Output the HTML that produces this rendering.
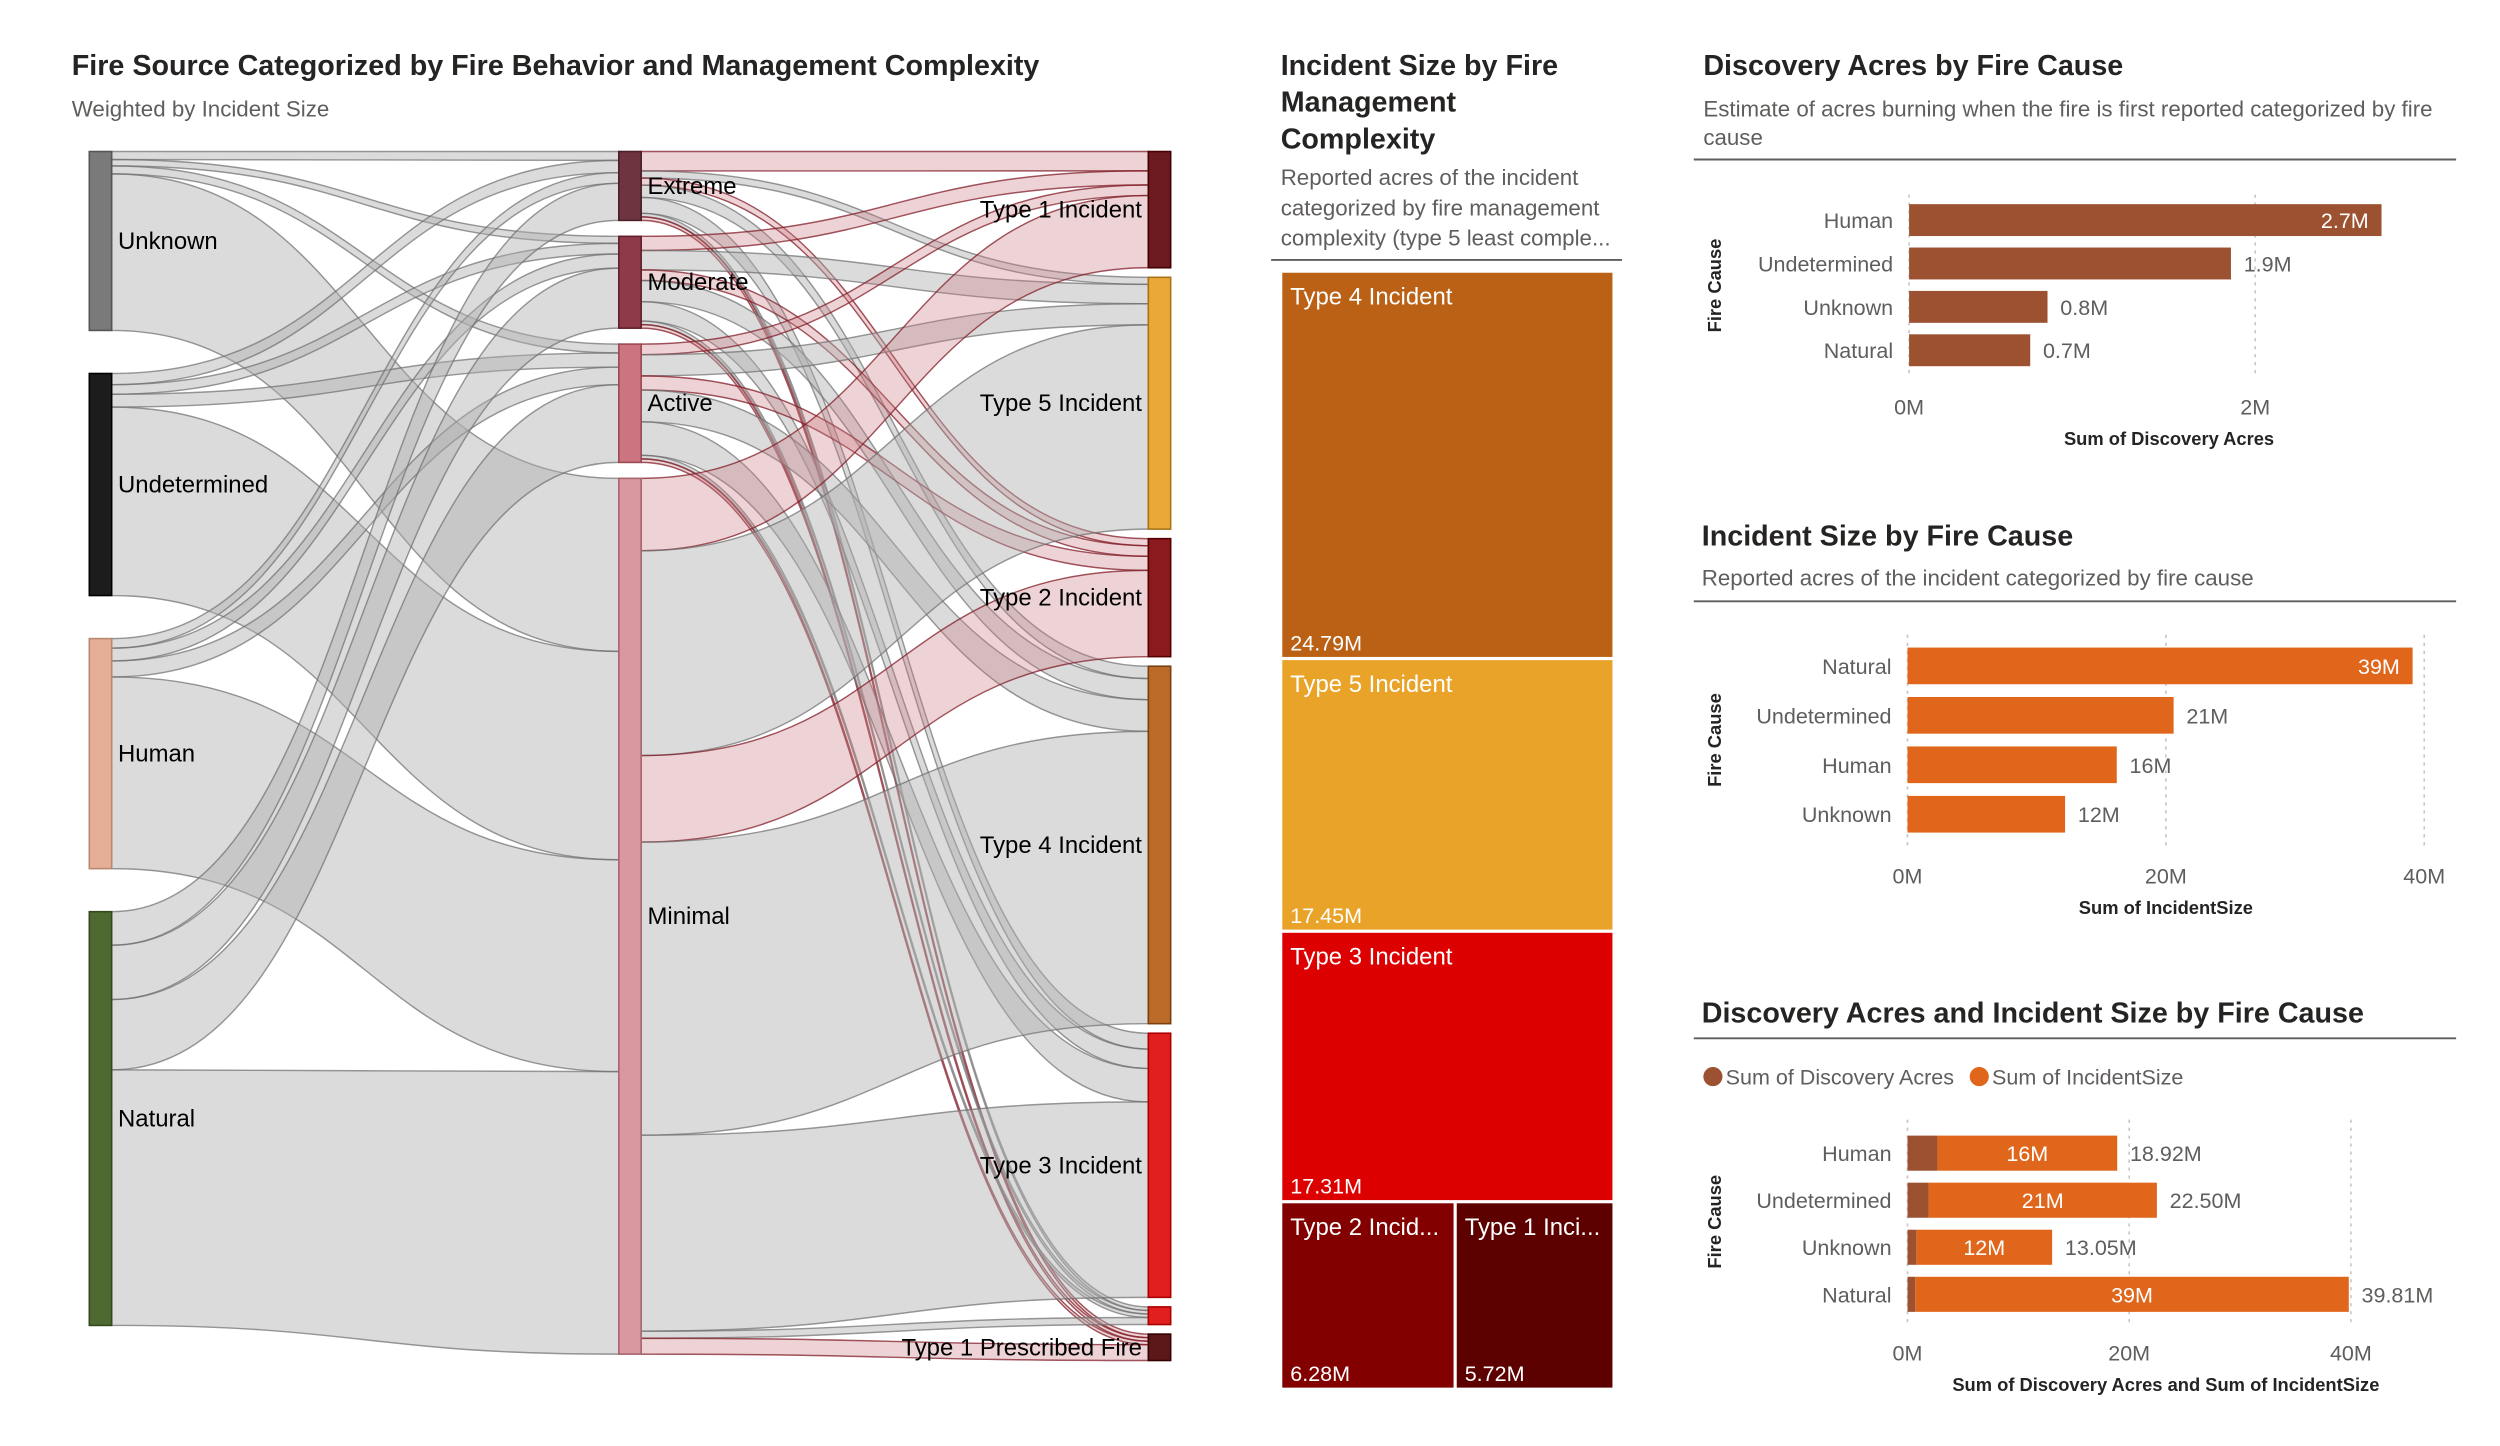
<!DOCTYPE html>
<html><head><meta charset="utf-8"><style>
html,body{margin:0;padding:0;background:#fff;}
svg{display:block;font-family:"Liberation Sans",sans-serif;}
.t{font-size:18px;fill:#252423;font-weight:600;}
.st{font-size:14px;fill:#605e5c;}
.lab{font-size:15px;fill:#000;}
.ax{font-size:13.5px;fill:#605e5c;}
.axt{font-size:11.5px;fill:#252423;font-weight:600;}
</style></head><body>
<svg id="root" width="2500" height="1446" viewBox="0 0 1567.5 906.6" preserveAspectRatio="none">
<g id="sankey">
<text class="t" x="45" y="47">Fire Source Categorized by Fire Behavior and Management Complexity</text>
<text class="st" x="45" y="73">Weighted by Incident Size</text>
<g id="links"></g><g id="nodes"></g>
</g>
<g id="treemap">
<text class="t" x="803" y="47">Incident Size by Fire</text>
<text class="t" x="803" y="70">Management</text>
<text class="t" x="803" y="93">Complexity</text>
<text class="st" x="803" y="116">Reported acres of the incident</text>
<text class="st" x="803" y="135">categorized by fire management</text>
<text class="st" x="803" y="154">complexity (type 5 least comple...</text>
<line x1="797" y1="163" x2="1017" y2="163" stroke="#605e5c" stroke-width="1.2"/>
<g id="tm"></g>
</g>
<g>
<text class="t" x="1068" y="47">Discovery Acres by Fire Cause</text>
<text class="st" x="1068" y="73">Estimate of acres burning when the fire is first reported categorized by fire</text>
<text class="st" x="1068" y="91">cause</text>
<line x1="1062" y1="100" x2="1540" y2="100" stroke="#605e5c" stroke-width="1.2"/>
<g id="c1"></g>
</g>
<g>
<text class="t" x="1067" y="342">Incident Size by Fire Cause</text>
<text class="st" x="1067" y="367">Reported acres of the incident categorized by fire cause</text>
<line x1="1062" y1="377" x2="1540" y2="377" stroke="#605e5c" stroke-width="1.2"/>
<g id="c2"></g>
</g>
<g>
<text class="t" x="1067" y="641">Discovery Acres and Incident Size by Fire Cause</text>
<line x1="1062" y1="651" x2="1540" y2="651" stroke="#605e5c" stroke-width="1.2"/>
<circle cx="1074" cy="675" r="6" fill="#9c5230"/>
<text class="ax" x="1082" y="680">Sum of Discovery Acres</text>
<circle cx="1241" cy="675" r="6" fill="#e0661c"/>
<text class="ax" x="1249" y="680">Sum of IncidentSize</text>
<g id="c3"></g>
</g>
</svg>
<script>
// ---- Sankey data ----
const leftNodes = ["Unknown","Undetermined","Human","Natural"];
const midNodes = ["Extreme","Moderate","Active","Minimal"];
const rightNodes = ["Type 1 Incident","Type 5 Incident","Type 2 Incident","Type 4 Incident","Type 3 Incident","Type 3 Prescribed","Type 1 Prescribed Fire"];
const leftToMid = [
 [5,4,5,98],
 [7,6,8,118],
 [6,8,10,120],
 [21,34,44,160]
];
const midToRight = [
 [11,4,4,7,9,2,2],
 [8,11,6,12,11,2,2],
 [6,12,8,18,19,2,2],
 [41,116,49,166,111,4,9]
];
// ---- Treemap data ----
const tmLabels = ["Type 4 Incident","Type 5 Incident","Type 3 Incident","Type 2 Incid...","Type 1 Inci..."];
const tmValues = [24.79,17.45,17.31,6.28,5.72];
// ---- Bar data ----
const causes1 = ["Human","Undetermined","Unknown","Natural"];
const discovery1 = [2.73,1.86,0.8,0.7];
const discoveryLabels = ["2.7M","1.9M","0.8M","0.7M"];
const causes2 = ["Natural","Undetermined","Human","Unknown"];
const incident2 = [39.1,20.6,16.2,12.2];
const incidentLabels = ["39M","21M","16M","12M"];
const causes3 = ["Human","Undetermined","Unknown","Natural"];
const disc3 = [2.7,1.9,0.8,0.7];
const inc3 = [16.22,20.6,12.25,39.11];
const inc3Labels = ["16M","21M","12M","39M"];
const total3Labels = ["18.92M","22.50M","13.05M","39.81M"];

const NS="http://www.w3.org/2000/svg";
function mk(tag,attrs,parent,txt){const e=document.createElementNS(NS,tag);for(const k in attrs)e.setAttribute(k,attrs[k]);if(txt!==undefined)e.textContent=txt;parent.appendChild(e);return e;}

// ---- Sankey layout ----
(function(){
 const links=document.getElementById('links'), nodes=document.getElementById('nodes');
 const colX=[56,388,720], W=14;
 const cols=[
  {names:leftNodes, top:95, bot:831, gap:27, fill:["#7a7a7a","#1c1c1c","#e6ae96","#4f6a30"], stroke:["#555","#000","#b98870","#344a1e"]},
  {names:midNodes, top:95, bot:849, gap:10, fill:["#6e3540","#8e3a48","#cc7580","#d9979f"], stroke:["#4a1e26","#611f2b","#9a4a55","#a8666e"]},
  {names:rightNodes, top:95, bot:853, gap:6, fill:["#6b1a20","#e9a838","#8b1a1f","#bb6a28","#e21f1f","#e21f1f","#5c1818"], stroke:["#400","#a87418","#500","#7a4010","#a00","#a00","#300"]}
 ];
 const lv=leftNodes.map((n,i)=>leftToMid[i].reduce((a,b)=>a+b,0));
 const mv=midNodes.map((n,j)=>midToRight[j].reduce((a,b)=>a+b,0));
 const rv=rightNodes.map((n,k)=>midToRight.reduce((a,r)=>a+r[k],0));
 const vals=[lv,mv,rv];
 const pos=cols.map((c,ci)=>{const v=vals[ci];const tot=v.reduce((a,b)=>a+b,0);const s=(c.bot-c.top-c.gap*(v.length-1))/tot;let y=c.top;return v.map(x=>{const r={y0:y,y1:y+x*s,s:s};y+=x*s+c.gap;return r;});});
 function drawLinks(mat,ci,redTargets){
  const src=pos[ci], tgt=pos[ci+1];
  const outOff=src.map(p=>p.y0), inOff=tgt.map(p=>p.y0);
  const x0=colX[ci]+W, x1=colX[ci+1], xm=(x0+x1)/2;
  for(let i=0;i<mat.length;i++)for(let j=0;j<mat[i].length;j++){
   const v=mat[i][j]; if(!v)continue;
   const a0=outOff[i], a1=a0+v*src[i].s; outOff[i]=a1;
   const b0=inOff[j], b1=b0+v*tgt[j].s; inOff[j]=b1;
   const red=redTargets&&redTargets.includes(j);
   const p=mk('path',{d:`M${x0},${a0}C${xm},${a0} ${xm},${b0} ${x1},${b0}L${x1},${b1}C${xm},${b1} ${xm},${a1} ${x0},${a1}Z`,
     fill:red?"rgba(200,120,128,0.33)":"rgba(175,175,175,0.45)",stroke:red?"rgba(130,30,40,0.75)":"rgba(110,110,110,0.7)","stroke-width":0.9},links);
   
   
  }
 }
 drawLinks(leftToMid,0,null);
 drawLinks(midToRight,1,[0,2,6]);
 cols.forEach((c,ci)=>{c.names.forEach((n,i)=>{const p=pos[ci][i];
  const r=mk('rect',{x:colX[ci],y:p.y0,width:W,height:p.y1-p.y0,fill:c.fill[i],stroke:c.stroke[i],"stroke-width":1},nodes);
  
  
  if(ci===2&&i===5)return;
  const cy=(p.y0+p.y1)/2+5;
  const t=ci<2?mk('text',{class:'lab',x:colX[ci]+W+4,y:cy},nodes,n):mk('text',{class:'lab',x:colX[ci]-4,y:cy,'text-anchor':'end'},nodes,n);
  
  
 });});
})();

// ---- Treemap ----
(function(){
 const g=document.getElementById('tm');
 const X=803,Y=170,Wd=209,H=701;
 const tot=tmValues.reduce((a,b)=>a+b,0);
 const colors=["#bb6116","#e8a328","#dc0000","#820000","#5c0000"];
 let y=Y; const rects=[];
 for(let i=0;i<3;i++){const h=tmValues[i]/tot*H;rects.push([X,y,Wd,h]);y+=h;}
 const hr=(tmValues[3]+tmValues[4])/tot*H; const w3=tmValues[3]/(tmValues[3]+tmValues[4])*Wd;
 rects.push([X,y,w3,hr]);rects.push([X+w3,y,Wd-w3,hr]);
 rects.forEach((r,i)=>{
  const e=mk('rect',{x:r[0]+1,y:r[1]+1,width:r[2]-2,height:r[3]-2,fill:colors[i]},g);
  
  
  const l=mk('text',{x:r[0]+6,y:r[1]+21,fill:'#fff','font-size':'15px'},g,tmLabels[i]);
  
  
  const v=mk('text',{x:r[0]+6,y:r[1]+r[3]-5,fill:'#fff','font-size':'13.5px'},g,tmValues[i].toFixed(2)+'M');
  
  
 });
})();

// ---- Bar helper ----
function barChart(id,o){
 const g=document.getElementById(id);
 const sx=v=>o.x0+(v/o.tickStep)*o.tickPx;
 o.ticks.forEach((t,i)=>{const x=sx(t);
  const gl=mk('line',{x1:x,y1:o.gTop,x2:x,y2:o.gBot,stroke:'#c8c6c4','stroke-dasharray':'2,3','stroke-width':1},g);
  
  
  const tl=mk('text',{class:'ax',x:x,y:o.tickY,'text-anchor':'middle'},g,o.tickLabels[i]);
  
  
 });
 const at=mk('text',{class:'axt',x:o.titleX,y:o.tickY+19,'text-anchor':'middle'},g,o.axisTitle);
 
 
 const yt=mk('text',{class:'axt',transform:`translate(1079,${(o.gTop+o.gBot)/2}) rotate(-90)`,'text-anchor':'middle'},g,'Fire Cause');
 
 
 o.cats.forEach((c,i)=>{
  const y=o.barTop+i*o.pitch;
  const cl=mk('text',{class:'ax',x:o.x0-10,y:y+o.bh/2+5,'text-anchor':'end'},g,c);
  
  
  let x=o.x0;
  o.series.forEach((s,si)=>{
   const w=sx(s.vals[i])-o.x0;
   const b=mk('rect',{x:x,y:y,width:w,height:o.bh,fill:s.color},g);
   
   
   if(s.inLabels){const t=mk('text',{x:x+w/2,y:y+o.bh/2+5,fill:'#fff','font-size':'13.5px','text-anchor':'middle'},g,s.inLabels[i]);
    
    }
   x+=w;
  });
  const lab=o.endLabels[i];
  let t;
  if(o.insideFirst&&i===0) t=mk('text',{x:x-8,y:y+o.bh/2+5,fill:'#fff','font-size':'13.5px','text-anchor':'end'},g,lab);
  else t=mk('text',{class:'ax',x:x+8,y:y+o.bh/2+5},g,lab);
  
  
 });
}
barChart('c1',{x0:1197,tickStep:2,tickPx:217,ticks:[0,2],tickLabels:["0M","2M"],gTop:122,gBot:236,tickY:260,titleX:1360,axisTitle:"Sum of Discovery Acres",
 cats:causes1,barTop:128,pitch:27.2,bh:20,series:[{vals:discovery1,color:"#9c5230"}],endLabels:discoveryLabels,insideFirst:true});
barChart('c2',{x0:1196,tickStep:20,tickPx:162,ticks:[0,20,40],tickLabels:["0M","20M","40M"],gTop:398,gBot:530,tickY:554,titleX:1358,axisTitle:"Sum of IncidentSize",
 cats:causes2,barTop:406,pitch:31,bh:23,series:[{vals:incident2,color:"#e0661c"}],endLabels:incidentLabels,insideFirst:true});
barChart('c3',{x0:1196,tickStep:20,tickPx:139,ticks:[0,20,40],tickLabels:["0M","20M","40M"],gTop:702,gBot:830,tickY:853,titleX:1358,axisTitle:"Sum of Discovery Acres and Sum of IncidentSize",
 cats:causes3,barTop:712,pitch:29.5,bh:22,series:[{vals:disc3,color:"#9c5230"},{vals:inc3,color:"#e0661c",inLabels:inc3Labels}],endLabels:total3Labels,insideFirst:false});
</script>
</body></html>
